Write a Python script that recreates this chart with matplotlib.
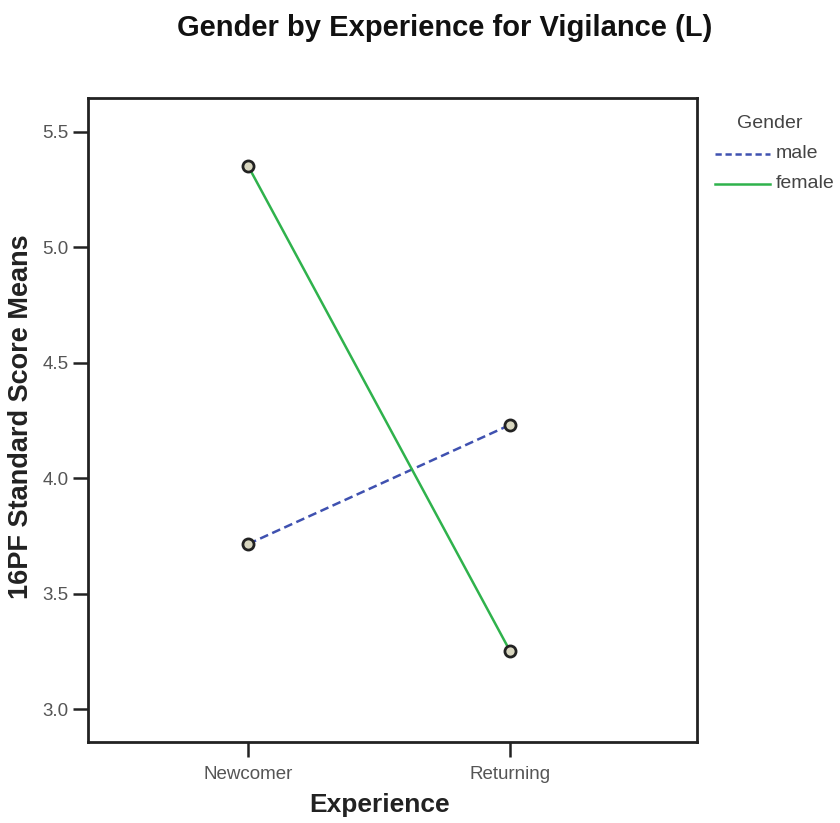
import matplotlib.pyplot as plt
import numpy as np

plt.rcParams['font.family'] = ['Liberation Sans', 'DejaVu Sans']

experience = ["Newcomer", "Returning"]
male_means = [3.716, 4.232]
female_means = [5.353, 3.253]
y_ticks = [3.0, 3.5, 4.0, 4.5, 5.0, 5.5]

fig = plt.figure(figsize=(8.4, 8.23), dpi=100)
ax = fig.add_axes([0.1048, 0.0984, 0.725, 0.7825])

x = np.arange(len(experience))
marker_kw = dict(marker="o", markersize=8, markerfacecolor="#d8d6bf",
                 markeredgecolor="#222222", markeredgewidth=2)
ax.plot(x, male_means, color="#3f51b0", lw=1.8, ls=(0, (3.5, 1.8)), **marker_kw)
ax.plot(x, female_means, color="#2fb24c", lw=1.8, **marker_kw)

ax.set_xlim(-0.611, 1.714)
ax.set_ylim(2.859, 5.647)
ax.set_xticks(x)
ax.set_xticklabels(experience)
ax.set_yticks(y_ticks)
ax.set_yticklabels([f"{v:.1f}" for v in y_ticks])
ax.tick_params(axis="both", direction="out", length=11, width=1.8,
               colors="#222222", labelcolor="#555555", labelsize=13.5, pad=3)
ax.tick_params(axis="x", pad=6)

for s in ax.spines.values():
    s.set_linewidth(2)
    s.set_color("#222222")

ax.set_xlabel("Experience", fontsize=19, fontweight="bold", color="#222222")
ax.xaxis.set_label_coords(0.5 - (392 - 379) / 609, -0.079)
ax.set_ylabel("16PF Standard Score Means", fontsize=19.5, fontweight="bold",
              color="#222222")
ax.yaxis.set_label_coords(-0.088, 0.505)

fig.suptitle("Gender by Experience for Vigilance (L)", x=445 / 840, y=1 - 28 / 823,
             va="center", fontsize=21, fontweight="bold", color="#111111")

# legend on the right
fig.text(770 / 840, 1 - 123 / 823, "Gender", ha="center", va="center",
         fontsize=14, color="#444444")
ax.plot([715 / 840, 770 / 840], [1 - 154 / 823] * 2, transform=fig.transFigure,
        color="#3f51b0", lw=1.8, ls=(0, (2.5, 1.5)), clip_on=False)
ax.plot([715 / 840, 770 / 840], [1 - 184 / 823] * 2, transform=fig.transFigure,
        color="#2fb24c", lw=1.8, clip_on=False)
fig.text(776 / 840, 1 - 154 / 823, "male", ha="left", va="center",
         fontsize=14, color="#444444")
fig.text(776 / 840, 1 - 184 / 823, "female", ha="left", va="center",
         fontsize=14, color="#444444")

fig.savefig("out.png", dpi=100, facecolor="white")
